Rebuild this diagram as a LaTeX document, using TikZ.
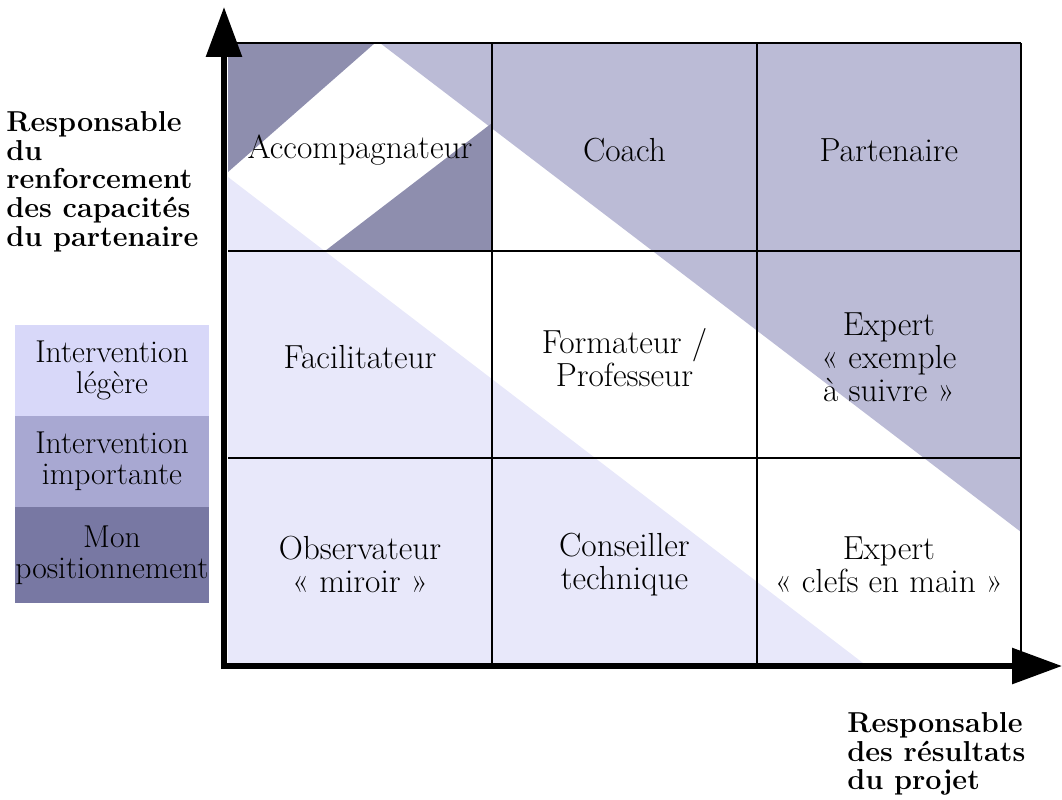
\documentclass[tikz,border=0pt]{standalone}
\usepackage{tikz}
\usetikzlibrary{arrows.meta,positioning}
\definecolor{fondleger}{HTML}{E8E8FA}
\definecolor{fondimportant}{HTML}{BBBBD6}
\definecolor{fondposition}{HTML}{8E8EAE}
\definecolor{legleger}{HTML}{D8D8F9}
\definecolor{legimportant}{HTML}{A8A8D2}
\definecolor{legposition}{HTML}{7878A3}
\tikzset{
    %Define standard arrow tip
    >={Triangle[length=1cm,width=0.7cm]},
    %Define style for the cells
    cell/.style={
           on grid,
           align=center,
           inner sep=0pt,
           font=\fontsize{19}{18.8}\selectfont},
    %Define style for the legend boxes
    legende/.style={
           rectangle,
           outer sep=0pt,
           inner sep=0pt,
           minimum width=3.88cm,
           minimum height=1.82cm,
           align=center,
           font=\fontsize{18}{17.6}\selectfont},
    titre/.style={
           anchor=north west,
           inner sep=0pt,
           align=left,
           font=\fontsize{16.4}{16.4}\selectfont\bfseries},
    grille/.style={black, line width=0.6pt},
    % Define arrow style
    axe/.style={->, line width=3.4pt}
}
\begin{document}
\begin{tikzpicture}[x=0.02cm,y=-0.02cm,node distance=4.15cm and 5.29cm]
\useasboundingbox (0,0) rectangle (1062,799);

% shaded zones
\fill[fondleger] (228,177) -- (228,663) -- (863,663) -- cycle;
\fill[fondimportant] (380,43) -- (1021,43) -- (1021,532) -- cycle;
\fill[fondposition] (228,43) -- (375,43) -- (228,172) -- cycle;
\fill[fondposition] (492,123) -- (492,251) -- (325,251) -- cycle;

% grid
\foreach \x in {492,757,1021}
    \draw[grille] (\x,43) -- (\x,663);
\foreach \y in {43,251,458}
    \draw[grille] (228,\y) -- (1021,\y);

% axes
\draw[axe] (224,669) -- (224,7);
\draw[axe] (221,666) -- (1062,666);

% cells
\node[cell] (acc) at (360,150) {Accompagnateur};
\node[cell, right=of acc] (coach) {Coach};
\node[cell, right=of coach] (part) {Partenaire};
\node[cell, below=of acc] (facil) {Facilitateur};
\node[cell, right=of facil] (form) {Formateur /\\Professeur};
\node[cell, right=of form] (expex) {Expert\\«~exemple\\à suivre~»};
\node[cell, below=of facil] (obs) {Observateur\\«~miroir~»};
\node[cell, right=of obs] (cons) {Conseiller\\technique};
\node[cell, right=of cons] (expcl) {Expert\\«~clefs en main~»};

% legend
\node[legende, fill=legleger] (leg1) at (112,370.5) {Intervention\\légère};
\node[legende, fill=legimportant, below=0pt of leg1] (leg2) {Intervention\\importante};
\node[legende, fill=legposition, minimum height=1.92cm, below=0pt of leg2] (leg3) {Mon\\positionnement};

% axis titles
\node[titre] (ytitre) at (6,111) {Responsable\\du\\renforcement\\des capacités\\du partenaire};
\node[titre] (xtitre) at (847,712) {Responsable\\des résultats\\du projet};
\end{tikzpicture}
\end{document}
